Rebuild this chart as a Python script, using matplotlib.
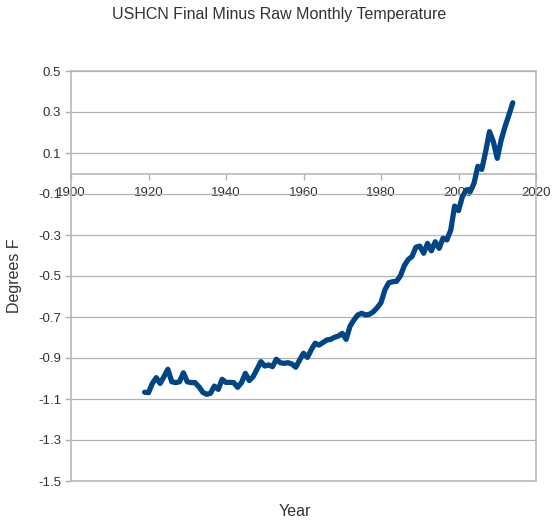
import matplotlib
matplotlib.use("Agg")
import matplotlib.pyplot as plt
import numpy as np

plt.rcParams['font.family'] = ['Liberation Sans', 'DejaVu Sans']

years = list(range(1919, 2015))
values = [
    -1.067, -1.069, -1.024, -0.996, -1.024, -0.991, -0.955, -1.016, -1.020, -1.016,  # 1919-1928
    -0.972, -1.016, -1.020, -1.020, -1.040, -1.067, -1.077, -1.072, -1.037, -1.053,  # 1929-1938
    -1.004, -1.019, -1.019, -1.020, -1.043, -1.020, -0.975, -1.010, -0.991, -0.955,  # 1939-1948
    -0.918, -0.939, -0.934, -0.942, -0.906, -0.923, -0.926, -0.923, -0.929, -0.945,  # 1949-1958
    -0.910, -0.877, -0.897, -0.860, -0.828, -0.837, -0.825, -0.812, -0.809, -0.799,  # 1959-1968
    -0.793, -0.780, -0.809, -0.745, -0.715, -0.690, -0.682, -0.690, -0.687, -0.675,  # 1969-1978
    -0.655, -0.630, -0.568, -0.533, -0.528, -0.526, -0.500, -0.450, -0.420, -0.405,  # 1979-1988
    -0.360, -0.354, -0.389, -0.341, -0.377, -0.333, -0.365, -0.316, -0.324, -0.276,  # 1989-1998
    -0.159, -0.181, -0.113, -0.080, -0.089, -0.048, 0.035, 0.020, 0.106, 0.204,      # 1999-2008
    0.155, 0.074, 0.163, 0.228, 0.285, 0.345,                                        # 2009-2014
]

x_ticks = [1900, 1920, 1940, 1960, 1980, 2000, 2020]
y_ticks = [0.5, 0.3, 0.1, -0.1, -0.3, -0.5, -0.7, -0.9, -1.1, -1.3, -1.5]

W, H = 558, 528
fig = plt.figure(figsize=(W / 100, H / 100), dpi=100)
ax = fig.add_axes([71 / W, (H - 481) / H, (536 - 71) / W, (481 - 71) / H])

grey = '#b3b3b3'
txt = '#333333'

ax.plot(years, values, color='#004586', lw=3.8, solid_capstyle='round',
        solid_joinstyle='round', zorder=3)

ax.set_xlim(1900, 2020)
ax.set_ylim(-1.5, 0.5)
ax.set_xticks(x_ticks)
ax.set_yticks(y_ticks)
ax.set_xticklabels([str(v) for v in x_ticks])
ax.set_yticklabels([f"{v:g}" for v in y_ticks])

ax.yaxis.grid(True, color=grey, lw=0.9)
ax.set_axisbelow(True)
ax.axhline(y_ticks[-1], color=grey, lw=1.1, clip_on=False, zorder=1)
ax.axhline(y_ticks[0], color=grey, lw=1.1, clip_on=False, zorder=1)

ax.spines['top'].set_visible(False)
ax.spines['bottom'].set_position(('data', 0))
for s in ['left', 'right', 'bottom']:
    ax.spines[s].set_color(grey)
    ax.spines[s].set_linewidth(1.1)

ax.tick_params(axis='x', direction='out', length=4, color=grey, width=1,
               labelsize=9.5, labelcolor=txt, pad=6)
ax.tick_params(axis='y', direction='out', length=4, color=grey, width=1,
               labelsize=9.5, labelcolor=txt, pad=3)

fig.text(279 / W, 1 - 15 / H, 'USHCN Final Minus Raw Monthly Temperature',
         ha='center', va='center', fontsize=11.5, color=txt)
fig.text(15 / W, 1 - 276 / H, 'Degrees F', rotation=90, ha='center',
         va='center', fontsize=11.5, color=txt)
fig.text(295 / W, 1 - 512 / H, 'Year', ha='center', va='center',
         fontsize=11.5, color=txt)

fig.savefig('out.png', dpi=100)
